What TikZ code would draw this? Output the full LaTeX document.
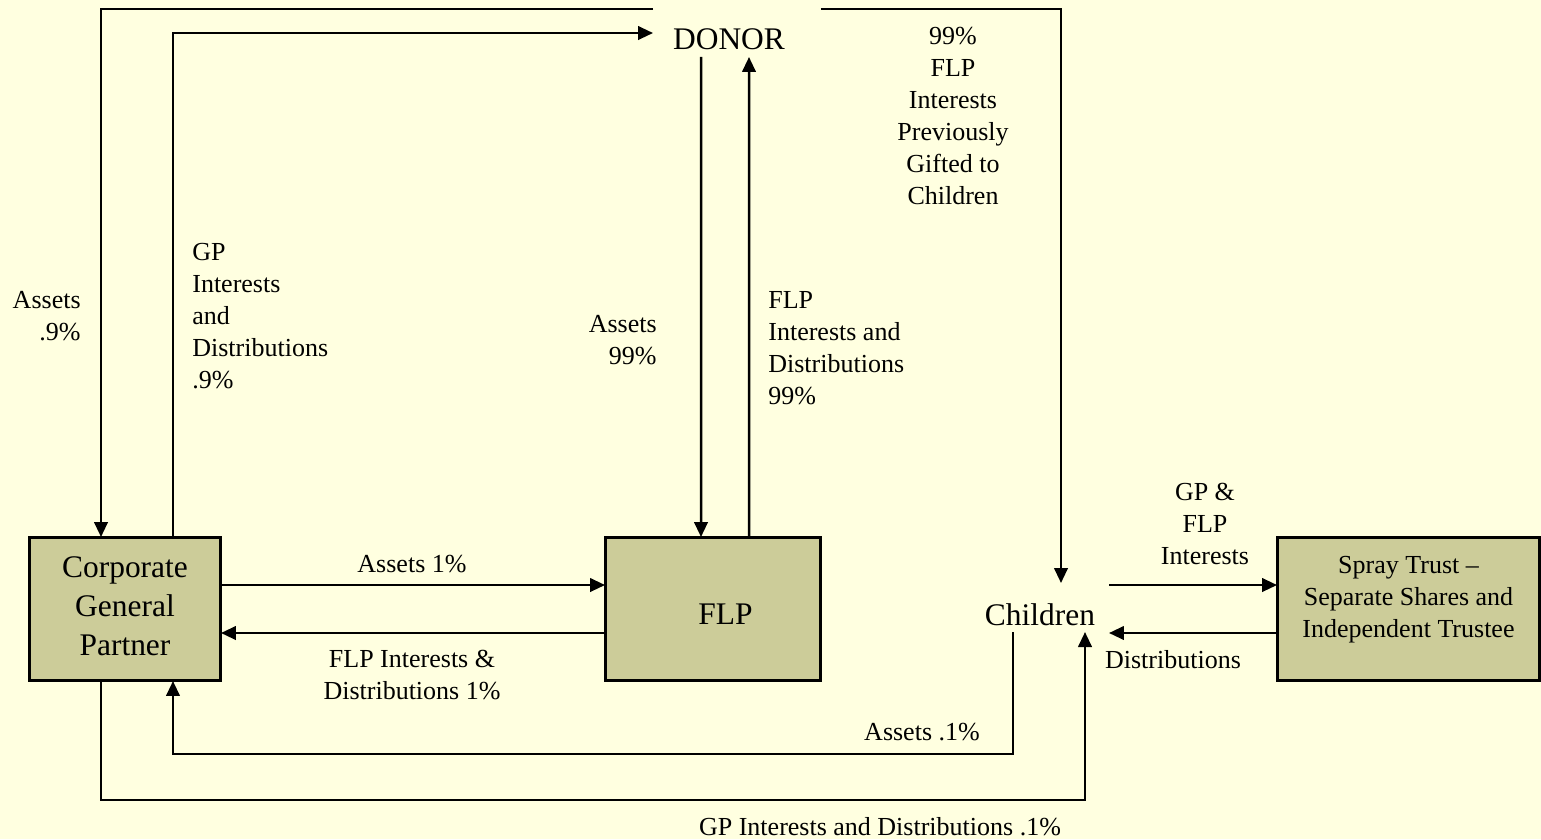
\documentclass[tikz,border=0pt]{standalone}
\usepackage{fontspec}
\setmainfont{Liberation Serif}
\usetikzlibrary{arrows.meta,calc}
\definecolor{paper}{HTML}{FFFFE0}
\definecolor{boxfill}{HTML}{CCCC99}
\begin{document}
\begin{tikzpicture}[x=0.02cm,y=-0.02cm,
  big/.style={font=\fontsize{17.9pt}{22.2pt}\selectfont},
  lbl/.style={font=\fontsize{14.8pt}{18.2pt}\selectfont, inner sep=0pt},
  entity/.style={draw=black, line width=0.06cm, fill=boxfill, outer sep=0pt, minimum height=2.88cm},
  party/.style={outer sep=0pt, inner sep=0pt},
  flow/.style={line width=0.05cm, -{Triangle[length=0.3cm,width=0.27cm]}}
]
% page
\fill[paper] (0,0) rectangle (1541,839);
\useasboundingbox (0,0) rectangle (1541,839);

% parties
\node[entity, minimum width=3.84cm, label={[big, align=center, yshift=0.05cm]center:Corporate\\General\\Partner}] (cgp) at (125,609) {};
\node[entity, minimum width=4.32cm, label={[big, xshift=0.25cm, yshift=-0.11cm]center:FLP}] (flp) at (713,609) {};
\node[entity, minimum width=5.26cm, label={[lbl, align=center, yshift=0.18cm]center:Spray Trust –\\Separate Shares and\\Independent Trustee}] (spray) at (1408.5,609) {};
\node[party, minimum width=3.36cm, minimum height=0.96cm, label={[big, xshift=-0.16cm, yshift=-0.13cm]center:DONOR}] (donor) at (737,33) {};
\node[party, minimum width=2.76cm, minimum height=0.98cm, label={[big, yshift=-0.15cm]center:Children}] (kids) at (1040,607.5) {};

% flows
\draw[flow] (donor.north west) -| ([xshift=-0.48cm]cgp.north);
\draw[flow] ([xshift=0.96cm]cgp.north) |- (donor.west);
\draw[flow] ([xshift=-0.72cm]donor.south) -- ([xshift=-0.24cm]flp.north);
\draw[flow] ([xshift=0.72cm]flp.north) -- ([xshift=0.24cm]donor.south);
\draw[flow] (donor.north east) -| ([xshift=0.42cm]kids.north);
\draw[flow] ([yshift=0.48cm]cgp.east) -- ([yshift=0.48cm]flp.west);
\draw[flow] ([yshift=-0.48cm]flp.west) -- ([yshift=-0.48cm]cgp.east);
\draw[flow] ([yshift=0.45cm]kids.east) -- ([yshift=0.45cm]kids.east -| spray.west);
\draw[flow] ([yshift=-0.48cm]spray.west) -- ([yshift=-0.48cm]spray.west -| kids.east);
\draw[flow] ([xshift=-0.54cm]kids.south) -- ++(0,122) -| ([xshift=0.96cm]cgp.south);
\draw[flow] ([xshift=-0.48cm]cgp.south) -- ++(0,119) -| ([xshift=0.9cm]kids.south);

% flow labels
\node[lbl, align=right, anchor=east] (l1) at (81,316) {Assets\\.9\%};
\node[lbl, align=left, anchor=west] (l2) at (192,316) {GP\\Interests\\and\\Distributions\\.9\%};
\node[lbl, align=right, anchor=east] (l3) at (657,340) {Assets\\99\%};
\node[lbl, align=left, anchor=west] (l4) at (768,348) {FLP\\Interests and\\Distributions\\99\%};
\node[lbl, align=center] (l5) at (953,116) {99\%\\FLP\\Interests\\Previously\\Gifted to\\Children};
\node[lbl] (l6) at (412,564) {Assets 1\%};
\node[lbl, align=center] (l7) at (412,675.5) {FLP Interests \&\\Distributions 1\%};
\node[lbl] (l8) at (922,732) {Assets .1\%};
\node[lbl] (l9) at (880,827) {GP Interests and Distributions .1\%};
\node[lbl, align=center] (l10) at (1205,524) {GP \&\\FLP\\Interests};
\node[lbl] (l11) at (1173,660) {Distributions};
\end{tikzpicture}
\end{document}
